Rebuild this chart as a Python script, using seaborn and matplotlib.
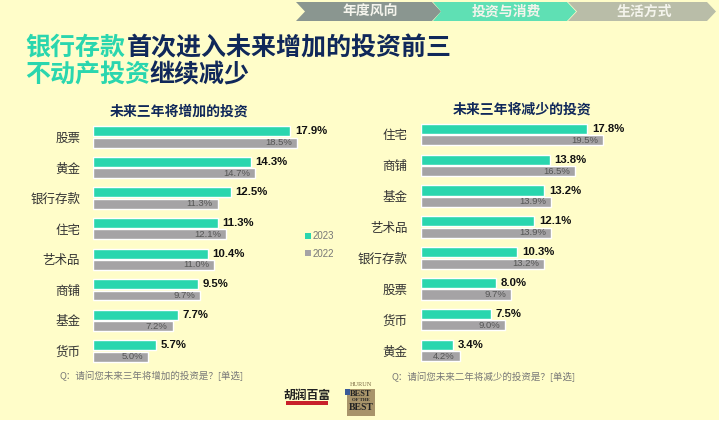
import pandas as pd
import matplotlib
matplotlib.use("Agg")
import matplotlib.pyplot as plt
from matplotlib.patches import Polygon, Rectangle
import seaborn as sns

W, H = 719, 425

# data
left_cats = ["股票", "黄金", "银行存款", "住宅", "艺术品", "商铺", "基金", "货币"]
left_2023 = [17.9, 14.3, 12.5, 11.3, 10.4, 9.5, 7.7, 5.7]
left_2022 = [18.5, 14.7, 11.3, 12.1, 11.0, 9.7, 7.2, 5.0]
right_cats = ["住宅", "商铺", "基金", "艺术品", "银行存款", "股票", "货币", "黄金"]
right_2023 = [17.8, 13.8, 13.2, 12.1, 10.3, 8.0, 7.5, 3.4]
right_2022 = [19.5, 16.5, 13.9, 13.9, 13.2, 9.7, 9.0, 4.2]
years = ["2023", "2022"]
steps = ["年度风向", "投资与消费", "生活方式"]

TEAL = "#2AD6AE"
GREY = "#A5A3A5"
NAVY = "#10285A"
BG = "#FFFDC9"

sns.set_theme(style="white")
plt.rcParams["font.family"] = ["Noto Sans CJK SC", "DejaVu Sans"]

fig = plt.figure(figsize=(W / 100, H / 100), dpi=100, facecolor="white")

# overlay in pixel coords for the slide furniture
bg = fig.add_axes([0, 0, 1, 1], zorder=0)
bg.set_xlim(0, W)
bg.set_ylim(H, 0)
bg.axis("off")
bg.add_patch(Rectangle((0, 0), W, 420, color=BG, lw=0))

# header chevrons
chevrons = [(296, 432, 305, "#8A9690"), (433, 567, 441, "#5FE0B4"), (568, 707, 577, "#B9BDA8")]
for (x0, x1, notch, col), step in zip(chevrons, steps):
    pts = [(x0, 2), (x1, 2), (x1 + 9, 11.5), (x1, 21), (x0, 21), (notch, 11.5)]
    bg.add_patch(Polygon(pts, closed=True, color=col, lw=0))
    bg.text((x0 + x1) / 2 + 6.5, 11.5, step, color="#F4F4EC", fontsize=10, fontweight="bold", ha="center", va="center")

# title, two colours per line
bg.text(25, 48, "银行存款", color=TEAL, fontsize=18, fontweight="bold", va="center")
bg.text(126.5, 48, "首次进入未来增加的投资前三", color=NAVY, fontsize=18, fontweight="bold", va="center")
bg.text(25, 75, "不动产投资", color=TEAL, fontsize=18, fontweight="bold", va="center")
bg.text(150, 75, "继续减少", color=NAVY, fontsize=18, fontweight="bold", va="center")

bg.text(179, 112, "未来三年将增加的投资", color=NAVY, fontsize=10, fontweight="bold", ha="center", va="center")
bg.text(522, 110, "未来三年将减少的投资", color=NAVY, fontsize=10, fontweight="bold", ha="center", va="center")

bg.text(60, 376, "Q：请问您未来三年将增加的投资是？[单选]", color="#777777", fontsize=6.8, va="center")
bg.text(392, 377, "Q：请问您未来二年将减少的投资是？[单选]", color="#777777", fontsize=6.8, va="center")

# logos, approximated with text
bg.text(307, 395, "胡润百富", color="#222222", fontsize=8.5, fontweight="bold", ha="center", va="center")
bg.add_patch(Rectangle((286, 401), 42, 3.5, color="#C8202A", lw=0))
bg.text(361, 384, "HURUN", color="#7A6A45", fontsize=4.5, family="Liberation Serif", ha="center", va="center")
bg.add_patch(Rectangle((347, 389), 28, 27, color="#A8946A", lw=0))
bg.add_patch(Rectangle((345, 389), 5, 6, color="#3A5A98", lw=0))
bg.text(361, 394, "BEST", color="#222222", fontsize=6, fontweight="bold", family="Liberation Serif", ha="center", va="center")
bg.text(361, 400, "OF THE", color="#222222", fontsize=3.5, fontweight="bold", family="Liberation Serif", ha="center", va="center")
bg.text(361, 407, "BEST", color="#222222", fontsize=7, fontweight="bold", family="Liberation Serif", ha="center", va="center")


def draw_panel(cats, v23, v22, x0, px_per_unit, top, pitch):
    df = pd.DataFrame({
        "cat": cats * 2,
        "year": [years[0]] * len(cats) + [years[1]] * len(cats),
        "value": v23 + v22,
    })
    width = 330 if x0 < 200 else 290
    height = pitch * len(cats)
    ax = fig.add_axes([x0 / W, 1 - (top + height) / H, width / W, height / H], zorder=1)
    ax.patch.set_alpha(0)
    sns.barplot(data=df, y="cat", x="value", hue="year", hue_order=years, order=cats,
                palette=[TEAL, GREY], width=0.74, gap=0.12, dodge=True, ax=ax, legend=False,
                saturation=1)
    ax.set_xlim(0, width / px_per_unit)
    ax.set_ylim(len(cats) - 0.5, -0.5)
    ax.set_xlabel("")
    ax.set_ylabel("")
    ax.set_xticks([])
    ax.tick_params(axis="y", length=0, pad=9.4, labelsize=9, labelcolor="#333333")
    sns.despine(ax=ax, left=True, bottom=True)
    ax.bar_label(ax.containers[0], fmt="%.1f%%", padding=3.5, fontsize=8.2, fontweight="bold",
                 color="#111111", family="Liberation Sans")
    for txt in ax.bar_label(ax.containers[1], fmt="%.1f%%", padding=-3.6, fontsize=6.8,
                            color="#555555", family="Liberation Sans"):
        txt.set_ha("right")
    return ax


ax_l = draw_panel(left_cats, left_2023, left_2022, 93.3, 11.0, 121.7, 30.57)
ax_r = draw_panel(right_cats, right_2023, right_2022, 420.7, 9.36, 119.07, 30.86)

handles = [Rectangle((0, 0), 1, 1, color=c, lw=0) for c in [TEAL, GREY]]
leg = bg.legend(handles, years, loc="center left", bbox_to_anchor=(300 / W, 1 - 245 / H), frameon=False,
                prop={"family": "Liberation Sans", "size": 7}, handlelength=0.6, handleheight=0.6,
                handletextpad=0.15, labelspacing=0.75, borderpad=0, labelcolor="#777777")

fig.savefig("out.png", dpi=100)
